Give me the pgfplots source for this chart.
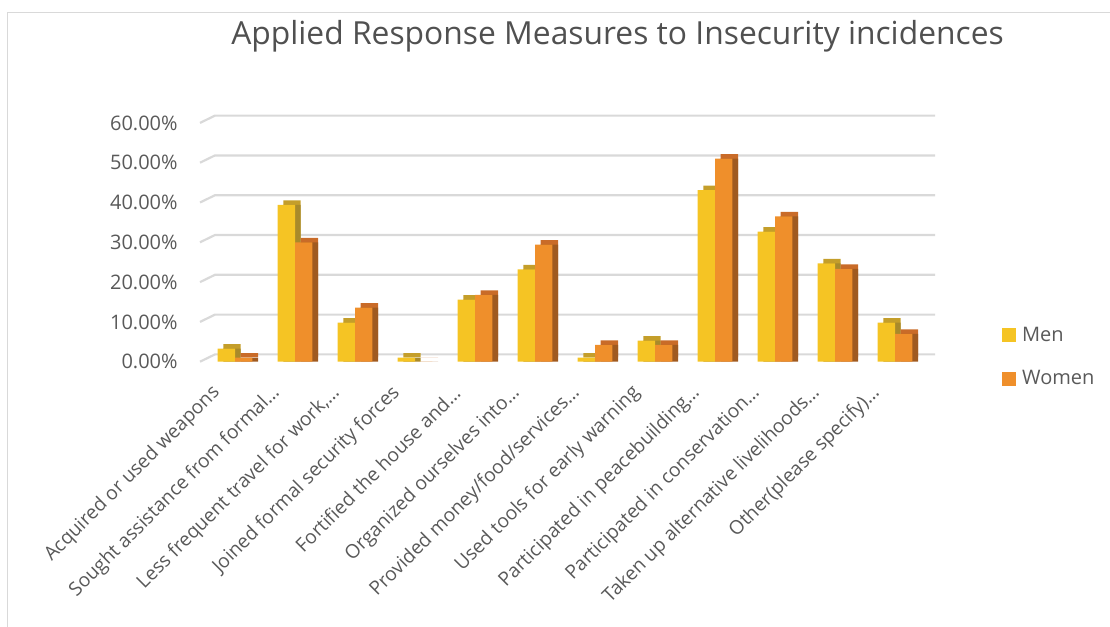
\documentclass[border=0pt]{standalone}
\usepackage{fontspec}
\setmainfont{Open Sans}
\usepackage{pgfplots}
\usepackage{pgfplotstable}
\pgfplotsset{compat=1.18}
\definecolor{menc}{HTML}{F5C424}
\definecolor{mentop}{HTML}{C49E2A}
\definecolor{menside}{HTML}{A88A2A}
\definecolor{womc}{HTML}{EF8F2B}
\definecolor{womtop}{HTML}{C96B28}
\definecolor{womside}{HTML}{A05A20}
\definecolor{gridc}{HTML}{D9D9D9}
\definecolor{txtc}{HTML}{595959}
\pgfplotstableread{
x men women
0 3.3 1.0
1 39.4 30.0
2 9.8 13.6
3 1.0 0.0
4 15.6 16.8
5 23.2 29.4
6 1.0 4.2
7 5.3 4.2
8 43.1 51.0
9 32.7 36.5
10 24.7 23.3
11 9.8 7.0
}\data
\begin{document}
\begin{tikzpicture}
\useasboundingbox (0,0) rectangle (555bp,313.5bp);
\draw[gridc, line width=0.8bp] (3.65bp,0) -- (3.65bp,307.15bp) -- (555bp,307.15bp);
\node[anchor=base, text=txtc!90!black, font=\fontsize{15.9bp}{19bp}\selectfont] at (308.75bp,291bp) {Applied Response Measures to Insecurity incidences};
\begin{axis}[
  at={(102.5bp,132.65bp)}, anchor=south west,
  scale only axis, width=360bp, height=119.4bp,
  xmin=-0.5, xmax=11.5, ymin=0, ymax=60,
  clip=false,
  axis line style={draw=none}, tick style={draw=none},
  major tick length=0pt,
  ytick={0,10,...,60},
  /pgf/number format/assume math mode=true,
  yticklabel={\pgfmathprintnumber[fixed,fixed zerofill,precision=2]{\tick}\%},
  yticklabel style={inner sep=0pt, xshift=-13.5bp, text=txtc, font=\fontsize{10bp}{12bp}\selectfont},
  xtick={0,...,11},
  xticklabels={Acquired or used weapons, Sought assistance from formal…, {Less frequent travel for work,…}, Joined formal security forces, Fortified the house and…, Organized ourselves into…, Provided money/food/services…, Used tools for early warning, Participated in peacebuilding…, Participated in conservation…, Taken up alternative livelihoods…, Other(please specify)…},
  xticklabel style={inner sep=0pt, xshift=-9bp, yshift=-14bp, rotate=45, anchor=east, text=txtc, font=\fontsize{9.6bp}{12bp}\selectfont},
  legend style={at={(1.0986,0.0197)}, anchor=west, draw=none, fill=none, row sep=13bp, font=\fontsize{10bp}{12bp}\selectfont, text=txtc, nodes={inner xsep=3bp, inner ysep=0pt}},
  legend cell align=left,
]
\pgfplotsinvokeforeach{0,10,...,60}{
  \draw[gridc, line width=1.1bp] ([xshift=-2.5bp]axis cs:-0.5,#1) -- ([xshift=5bp,yshift=3.65bp]axis cs:-0.5,#1) -- ([xshift=5bp,yshift=3.65bp]axis cs:11.5,#1);
}
\addplot[ybar, bar width=8.65bp, bar shift=-4.325bp, fill=mentop, draw=none, xshift=2.85bp, yshift=2.25bp, forget plot] table[x=x,y=men]{\data};
\addplot[ybar, bar width=8.65bp, bar shift=-4.325bp, fill=menside, draw=none, xshift=2.85bp, forget plot] table[x=x,y=men]{\data};
\addplot[ybar, bar width=8.65bp, bar shift=-4.325bp, fill=menc, draw=none, forget plot] table[x=x,y=men]{\data};
\addplot[ybar, bar width=8.65bp, bar shift=4.325bp, fill=womtop, draw=none, xshift=2.85bp, yshift=2.25bp, forget plot] table[x=x,y=women]{\data};
\addplot[ybar, bar width=8.65bp, bar shift=4.325bp, fill=womside, draw=none, xshift=2.85bp, forget plot] table[x=x,y=women]{\data};
\addplot[ybar, bar width=8.65bp, bar shift=4.325bp, fill=womc, draw=none, forget plot] table[x=x,y=women]{\data};
\addlegendimage{legend image code/.code={\fill[menc] (0bp,-3.25bp) rectangle (6.5bp,3.25bp);}}
\addlegendentry{Men}
\addlegendimage{legend image code/.code={\fill[womc] (0bp,-3.25bp) rectangle (6.5bp,3.25bp);}}
\addlegendentry{Women}
\end{axis}
\end{tikzpicture}
\end{document}
